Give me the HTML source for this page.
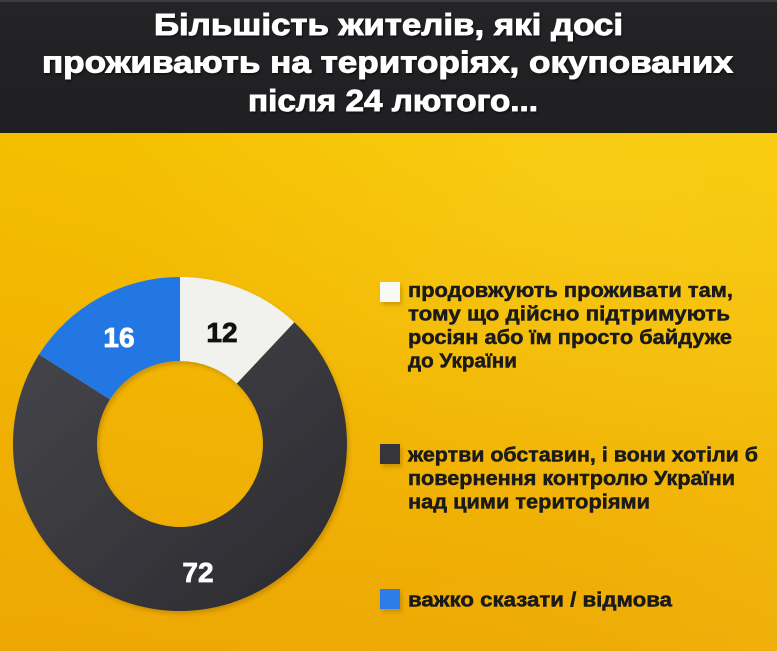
<!DOCTYPE html>
<html>
<head>
<meta charset="utf-8">
<style>
  html,body{margin:0;padding:0;background:#f4bf00;}
  body{width:777px;height:651px;overflow:hidden;}
  svg{display:block;}
  .t{font-family:"Liberation Sans","DejaVu Sans",sans-serif;font-weight:bold;}
</style>
</head>
<body>
<svg width="777" height="651" viewBox="0 0 777 651" xmlns="http://www.w3.org/2000/svg">
  <defs>
    <linearGradient id="bg" x1="0" y1="0" x2="0" y2="1">
      <stop offset="0" stop-color="#f9cd00"/>
      <stop offset="0.45" stop-color="#f4bd02"/>
      <stop offset="1" stop-color="#eeaa05"/>
    </linearGradient>
    <linearGradient id="bgh" x1="0" y1="0" x2="1" y2="0">
      <stop offset="0" stop-color="#e89a00" stop-opacity="0.18"/>
      <stop offset="0.5" stop-color="#e89a00" stop-opacity="0.05"/>
      <stop offset="1" stop-color="#ffe040" stop-opacity="0.10"/>
    </linearGradient>
    <radialGradient id="glow" cx="0.75" cy="0.1" r="0.6">
      <stop offset="0" stop-color="#ffe34a" stop-opacity="0.25"/>
      <stop offset="1" stop-color="#ffe34a" stop-opacity="0"/>
    </radialGradient>
    <linearGradient id="dark" x1="0" y1="0" x2="1" y2="1">
      <stop offset="0" stop-color="#46464b"/>
      <stop offset="1" stop-color="#2a2a2f"/>
    </linearGradient>
    <linearGradient id="hdr" x1="0" y1="0" x2="0" y2="1">
      <stop offset="0" stop-color="#242427"/>
      <stop offset="1" stop-color="#1f1f22"/>
    </linearGradient>
    <filter id="sh" x="-10%" y="-10%" width="130%" height="130%">
      <feDropShadow dx="2" dy="3" stdDeviation="2" flood-color="#8a5a00" flood-opacity="0.35"/>
    </filter>
    <filter id="tsh" x="-5%" y="-20%" width="110%" height="150%">
      <feDropShadow dx="1" dy="1.5" stdDeviation="1" flood-color="#000" flood-opacity="0.6"/>
    </filter>
  </defs>

  <!-- background -->
  <rect x="0" y="0" width="777" height="651" fill="url(#bg)"/>
  <rect x="0" y="133" width="777" height="518" fill="url(#bgh)"/>
  <rect x="0" y="133" width="777" height="518" fill="url(#glow)"/>

  <!-- header -->
  <rect x="0" y="0" width="777" height="133" fill="url(#hdr)"/>
  <rect x="0" y="0" width="777" height="2" fill="#3c3c40"/>
  <g class="t" fill="#ffffff" stroke="#ffffff" stroke-width="0.9" filter="url(#tsh)" font-size="31">
    <text x="154" y="35" textLength="469" lengthAdjust="spacingAndGlyphs">Більшість жителів, які досі</text>
    <text x="42" y="72.5" textLength="691" lengthAdjust="spacingAndGlyphs">проживають на територіях, окупованих</text>
    <text x="248" y="111" textLength="290" lengthAdjust="spacingAndGlyphs">після 24 лютого...</text>
  </g>

  <!-- donut -->
  <g filter="url(#sh)">
    <path d="M294.3,322.3 A167,167 0 1 1 39.0,354.5 L109.9,399.5 A83,83 0 1 0 236.8,383.5 Z" fill="url(#dark)"/>
    <path d="M180,277 A167,167 0 0 1 294.3,322.3 L236.8,383.5 A83,83 0 0 0 180,361 Z" fill="#f1f1ee"/>
    <path d="M39.0,354.5 A167,167 0 0 1 180,277 L180,361 A83,83 0 0 0 109.9,399.5 Z" fill="#2277e2"/>
  </g>
  <g class="t" font-size="28" text-anchor="middle" stroke-width="0.8">
    <text x="222" y="342" fill="#111111" stroke="#111111">12</text>
    <text x="119" y="347" fill="#ffffff" stroke="#ffffff">16</text>
    <text x="198" y="582" fill="#ffffff" stroke="#ffffff">72</text>
  </g>

  <!-- legend squares -->
  <g filter="url(#sh)">
    <rect x="380" y="282" width="20" height="20" fill="#f8f8f5"/>
    <rect x="380" y="444" width="20" height="20" fill="#35353a"/>
    <rect x="380" y="589" width="20" height="20" fill="#2d7de6"/>
  </g>

  <!-- legend text -->
  <g class="t" fill="#1a1a1a" stroke="#1a1a1a" stroke-width="0.5" font-size="20.5">
    <text x="408" y="297" textLength="325" lengthAdjust="spacingAndGlyphs">продовжують проживати там,</text>
    <text x="408" y="320.5" textLength="322" lengthAdjust="spacingAndGlyphs">тому що дійсно підтримують</text>
    <text x="408" y="344" textLength="324" lengthAdjust="spacingAndGlyphs">росіян або їм просто байдуже</text>
    <text x="408" y="367.5" textLength="109" lengthAdjust="spacingAndGlyphs">до України</text>

    <text x="408" y="461.5" textLength="350" lengthAdjust="spacingAndGlyphs">жертви обставин, і вони хотіли б</text>
    <text x="408" y="485" textLength="327" lengthAdjust="spacingAndGlyphs">повернення контролю України</text>
    <text x="408" y="508.5" textLength="242" lengthAdjust="spacingAndGlyphs">над цими територіями</text>

    <text x="408" y="606.5" textLength="264" lengthAdjust="spacingAndGlyphs">важко сказати / відмова</text>
  </g>
</svg>
</body>
</html>
